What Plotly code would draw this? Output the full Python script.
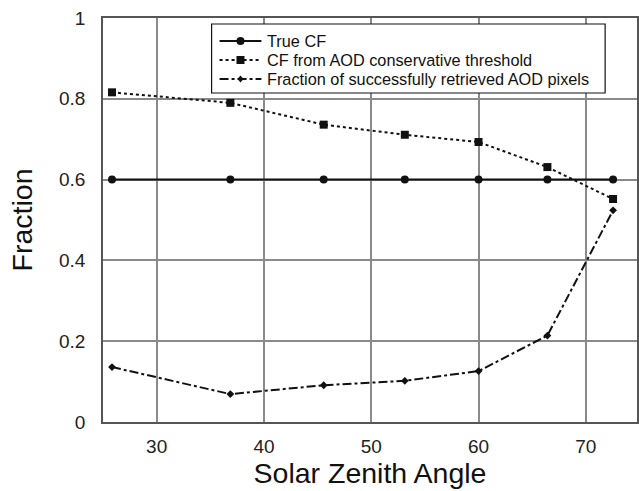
import plotly.graph_objects as go

# Solar zenith angles (degrees)
sza = [25.84, 36.87, 45.57, 53.13, 60.0, 66.42, 72.54]

# Fraction values for each series
true_cf = [0.6, 0.6, 0.6, 0.6, 0.6, 0.6, 0.6]
cf_aod_threshold = [0.816, 0.79, 0.736, 0.711, 0.693, 0.631, 0.552]
frac_retrieved = [0.136, 0.069, 0.091, 0.102, 0.126, 0.214, 0.524]

series_names = [
    "True CF",
    "CF from AOD conservative threshold",
    "Fraction of successfully retrieved AOD pixels",
]

x_ticks = [30, 40, 50, 60, 70]
y_ticks = [0, 0.2, 0.4, 0.6, 0.8, 1]
y_tick_text = ["0", "0.2", "0.4", "0.6", "0.8", "1"]

FONT = "Liberation Sans, Arial, sans-serif"
INK = "#111111"
W, H = 639, 491
M_L, M_R, M_T, M_B = 103, 0, 18, 69
PW, PH = W - M_L - M_R, H - M_T - M_B

styles = [
    dict(dash="solid", symbol="circle", size=8),
    dict(dash="dot", symbol="square", size=8),
    dict(dash="dashdot", symbol="diamond", size=6),
]
values = [true_cf, cf_aod_threshold, frac_retrieved]

fig = go.Figure()
for name, vals, st in zip(series_names, values, styles):
    fig.add_trace(go.Scatter(
        x=sza, y=vals, name=name, mode="lines+markers", showlegend=False,
        line=dict(color=INK, width=2, dash=st["dash"]),
        marker=dict(symbol=st["symbol"], size=st["size"], color=INK),
    ))


def px_x(p):
    return (p - M_L) / PW


def px_y(p):
    return (H - M_B - p) / PH


# Legend box drawn as a boxed key in the upper part of the plot
shapes = [dict(type="rect", xref="paper", yref="paper",
               x0=px_x(212), x1=px_x(607), y0=px_y(93), y1=px_y(24),
               fillcolor="white", line=dict(color=INK, width=1.2), layer="above")]
annotations = []
row_y = [41, 60, 79]
dash_map = {"solid": "solid", "dot": "dot", "dashdot": "dashdot"}
for name, st, ry in zip(series_names, styles, row_y):
    yc = px_y(ry)
    shapes.append(dict(type="line", xref="paper", yref="paper",
                       x0=px_x(220), x1=px_x(262), y0=yc, y1=yc,
                       line=dict(color=INK, width=2, dash=dash_map[st["dash"]]),
                       layer="above"))
    xa = px_x(241)
    if st["symbol"] == "circle":
        shapes.append(dict(type="circle", xref="paper", yref="paper",
                           xsizemode="pixel", ysizemode="pixel", xanchor=xa, yanchor=yc,
                           x0=-4, x1=4, y0=-4, y1=4, fillcolor=INK,
                           line=dict(width=0), layer="above"))
    elif st["symbol"] == "square":
        shapes.append(dict(type="rect", xref="paper", yref="paper",
                           xsizemode="pixel", ysizemode="pixel", xanchor=xa, yanchor=yc,
                           x0=-4, x1=4, y0=-4, y1=4, fillcolor=INK,
                           line=dict(width=0), layer="above"))
    else:
        shapes.append(dict(type="path", xref="paper", yref="paper",
                           xsizemode="pixel", ysizemode="pixel", xanchor=xa, yanchor=yc,
                           path="M 0 3.5 L 3 0 L 0 -3.5 L -3 0 Z", fillcolor=INK,
                           line=dict(width=0), layer="above"))
    annotations.append(dict(xref="paper", yref="paper", x=px_x(266), y=yc,
                            xanchor="left", yanchor="middle", showarrow=False,
                            text=name, font=dict(family=FONT, size=16.3, color=INK)))

fig.update_layout(
    width=W, height=H,
    margin=dict(l=M_L, r=M_R, t=M_T, b=M_B),
    paper_bgcolor="white", plot_bgcolor="white",
    font=dict(family=FONT, color="#222222"),
    showlegend=False,
    shapes=shapes,
    annotations=annotations,
)
fig.update_xaxes(
    range=[25, 74.77], tickmode="array", tickvals=x_ticks,
    showgrid=True, gridcolor="#8a8a8a", gridwidth=1.5,
    showline=True, linecolor="#555555", linewidth=1.5, mirror=True,
    zeroline=False, ticks="", ticklabelstandoff=6,
    tickfont=dict(family=FONT, size=19, color="#222222"),
    title=dict(text="Solar Zenith Angle", font=dict(family=FONT, size=28.5, color="#111111"),
               standoff=6),
)
fig.update_yaxes(
    range=[0, 1], tickmode="array", tickvals=y_ticks, ticktext=y_tick_text,
    showgrid=True, gridcolor="#8a8a8a", gridwidth=1.5,
    showline=True, linecolor="#555555", linewidth=1.5, mirror=True,
    zeroline=False, ticks="", ticklabelstandoff=12,
    tickfont=dict(family=FONT, size=19, color="#222222"),
    title=dict(text="Fraction", font=dict(family=FONT, size=28.5, color="#111111"),
               standoff=18),
)

fig.write_html("out.html")
